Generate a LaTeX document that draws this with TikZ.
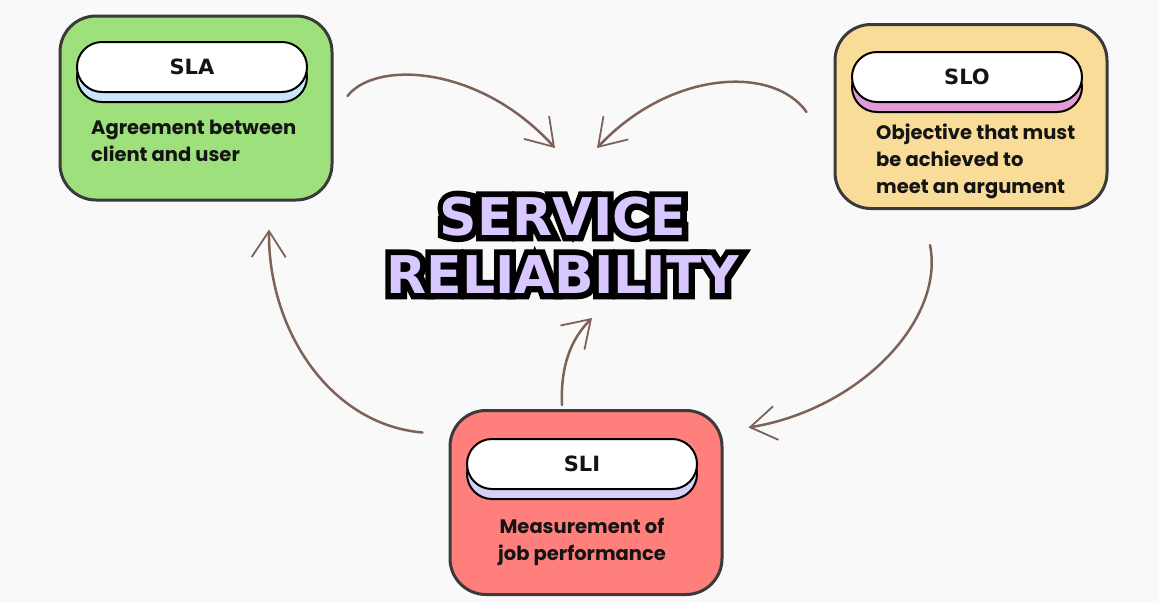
\documentclass[tikz,border=0pt]{standalone}
\usepackage{fontspec}
\setmainfont{Poppins}
\newfontfamily\titlefont{DejaVu Sans}
\usetikzlibrary{arrows.meta,shadows,calc}

\definecolor{paper}{HTML}{F9F9F9}
\definecolor{cardline}{HTML}{3A3A3A}
\definecolor{slagreen}{HTML}{9DE07C}
\definecolor{sloyellow}{HTML}{F8DC98}
\definecolor{slired}{HTML}{FF7F7C}
\definecolor{slablue}{HTML}{C8E6FA}
\definecolor{slopink}{HTML}{E49AD6}
\definecolor{slililac}{HTML}{D6D0F8}
\definecolor{lavender}{HTML}{D8C8FF}
\definecolor{linkbrown}{HTML}{7D6258}
\definecolor{ink}{HTML}{141414}

% stroked copy behind, filled copy on top
\newcommand\outlined[1]{\makebox[0pt][l]{\special{pdf:literal direct 2 Tr 12 w 0 j}\textcolor{black}{#1}\special{pdf:literal direct 0 Tr}}#1}

\begin{document}
\begin{tikzpicture}[
  x=1pt, y=-1pt,
  card/.style={draw=cardline, line width=3pt, rounded corners=36pt,
    minimum width=272pt, minimum height=184pt},
  pill/.style={draw=black, line width=2pt, fill=white, rounded corners=25pt,
    minimum width=230pt, minimum height=50pt, text=ink,
    font=\titlefont\bfseries\fontsize{21}{21}\selectfont,
    general shadow={shadow yshift=-10pt, fill=#1, draw=black, line width=2pt}},
  note/.style={font=\bfseries\fontsize{19.5}{27}\selectfont, text=ink, inner sep=0pt},
  link/.style={draw=linkbrown, line width=2.5pt, line cap=round,
    -{Straight Barb[length=26pt,width=34pt,line width=1.8pt]}}
]
\fill[paper] (0,0) rectangle (1159,603);
\useasboundingbox (0,0) rectangle (1159,603);

% the three cards
\node[card, fill=slagreen] (sla) at (196,108) {};
\node[card, fill=sloyellow] (slo) at (971,116.5) {};
\node[card, fill=slired] (sli) at (586,502.5) {};

\node[pill=slablue] (slapill) at (192,67) {SLA};
\node[pill=slopink] (slopill) at (967,77) {SLO};
\node[pill=slililac] (slipill) at (582,464) {SLI};

\node[note, align=left, anchor=north west] (slatext) at (91,120)
  {Agreement between\\client and user};
\node[note, align=left, anchor=north west] (slotext) at (876,124)
  {Objective that must\\be achieved to\\meet an argument};
\node[note, align=center, anchor=north] (slitext) at (582,518)
  {Measurement of\\job performance};

% title
\node[font=\titlefont\bfseries\fontsize{52}{58}\selectfont, text=lavender,
  align=center, inner sep=2pt] (title) at (563,245)
  {\outlined{SERVICE}\\\outlined{RELIABILITY}};

% arrows
\draw[link] ($(sla.east)+(14,-12)$) .. controls +(28,-36) and +(-75,-83) .. ($(title.center)+(-8,-97)$);
\draw[link] ($(slo.west)+(-27,-4.5)$) .. controls +(-33,-47) and +(73,-78) .. ($(title.center)+(34,-97)$);
\draw[link] ($(sli.north)+(-24,-4)$) .. controls +(-2,-45) and +(-17,17) .. ($(title.center)+(29,73)$);
\draw[link] ($(sli.west)+(-26,-70)$) .. controls +(-93,-8) and +(-1,100) .. ($(sla.south)+(73,28)$);
\draw[link] ($(slo.south)+(-41,35)$) .. controls +(15,75) and +(111,-18) .. ($(sli.east)+(25,-75)$);
\end{tikzpicture}
\end{document}
